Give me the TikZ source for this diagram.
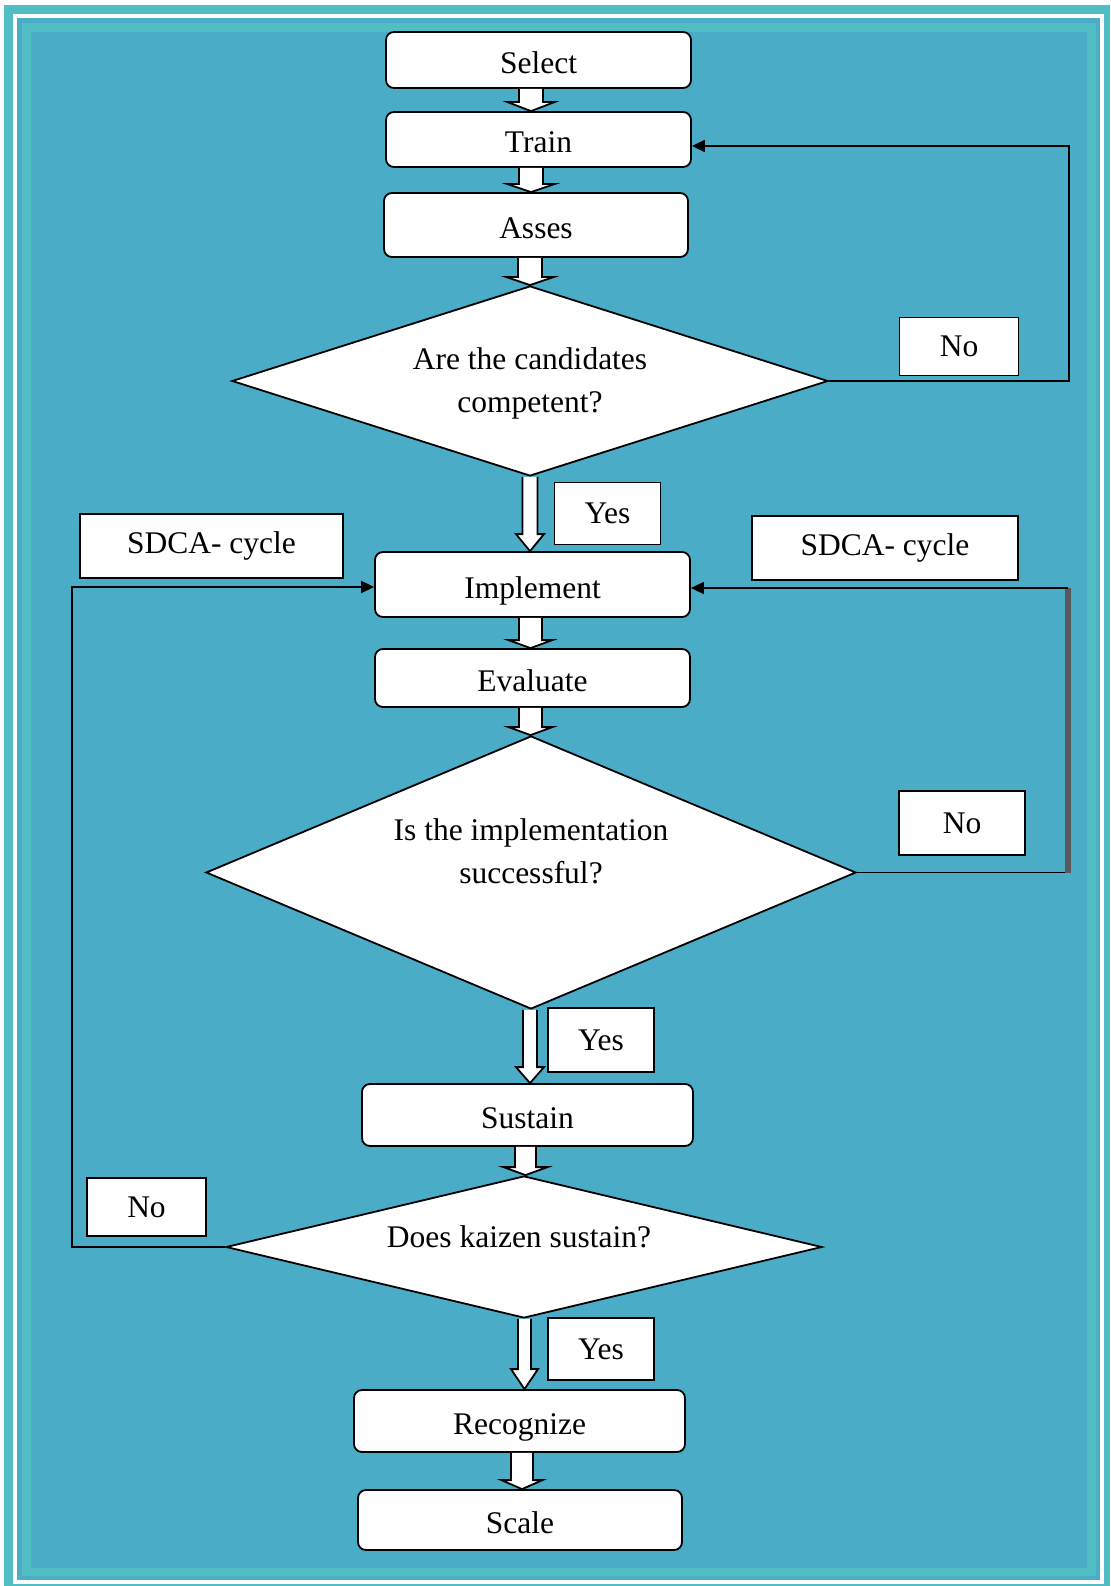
\documentclass[tikz,border=0pt]{standalone}
\usepackage{fontspec}
\setmainfont{Liberation Serif}
\usetikzlibrary{shapes.geometric,arrows.meta,calc}

\definecolor{frameteal}{RGB}{81,190,196}
\definecolor{panelblue}{RGB}{74,172,198}
\definecolor{loopgray}{RGB}{89,89,89}

\tikzset{
  txt/.style={font=\fontsize{31.5}{43}\selectfont, align=center, inner sep=0pt},
  stepbox/.style={draw=black, line width=1.8pt, fill=white, rounded corners=8pt,
    inner sep=0pt, text height=27pt, text depth=0pt, font=\fontsize{31.5}{43}\selectfont},
  tagbox/.style={draw=black, line width=1.8pt, fill=white, inner sep=0pt,
    font=\fontsize{31.5}{43}\selectfont},
  decision/.style={draw=black, line width=1.8pt, fill=white, diamond, inner sep=0pt},
  flowline/.style={draw=black, line width=1.8pt, line join=miter},
  loopline/.style={draw=black, line width=1.8pt},
  looptip/.style={-{Triangle[length=13pt,width=12pt]}},
}

% hollow block arrow: x position, start anchor, end anchor, half shaft, half head, head length
\newcommand\flowarrow[6]{%
  \fill[white] let \p1=(#2), \p2=(#3) in
    (#1pt-#4pt,\y1) -- (#1pt-#4pt,\y2+#6pt) -- (#1pt-#5pt,\y2+#6pt) -- (#1pt,\y2)
    -- (#1pt+#5pt,\y2+#6pt) -- (#1pt+#4pt,\y2+#6pt) -- (#1pt+#4pt,\y1) -- cycle;
  \draw[flowline] let \p1=(#2), \p2=(#3) in
    (#1pt-#4pt,\y1) -- (#1pt-#4pt,\y2+#6pt) -- (#1pt-#5pt,\y2+#6pt) -- (#1pt,\y2)
    -- (#1pt+#5pt,\y2+#6pt) -- (#1pt+#4pt,\y2+#6pt) -- (#1pt+#4pt,\y1);
}

\begin{document}
\begin{tikzpicture}[x=1pt,y=-1pt]
\useasboundingbox (0,0) rectangle (1110,1586);

% page frame
\fill[white] (0,0) rectangle (1110,1586);
\fill[frameteal] (4,5) rectangle (1110,1586);
\fill[white] (13,14) rectangle (1104,1584);
\fill[panelblue] (17,18) rectangle (1100,1580);
\fill[frameteal] (22,23) rectangle (1096,1576);
\fill[panelblue] (31,32) rectangle (1087,1568);

% process steps
\node[stepbox, minimum width=305pt, minimum height=56pt] (select) at (538.5,60) {Select};
\node[stepbox, minimum width=305pt, minimum height=55pt] (train) at (538.5,139.5) {Train};
\node[stepbox, minimum width=304pt, minimum height=64pt] (asses) at (536,225) {Asses};
\node[stepbox, minimum width=315pt, minimum height=65pt] (implement) at (532.5,584.5) {Implement};
\node[stepbox, minimum width=315pt, minimum height=58pt] (evaluate) at (532.5,678) {Evaluate};
\node[stepbox, minimum width=331pt, minimum height=62pt] (sustain) at (527.5,1115) {Sustain};
\node[stepbox, minimum width=331pt, minimum height=62pt] (recognize) at (519.5,1421) {Recognize};
\node[stepbox, minimum width=324pt, minimum height=60pt] (scale) at (520,1520) {Scale};

% decisions
\node[decision, minimum width=596pt, minimum height=190pt] (d1) at (530,381) {};
\node[txt] (d1text) at (530,383) {Are the candidates\\competent?};
\node[decision, minimum width=650pt, minimum height=273pt] (d2) at (531,872.5) {};
\node[txt] (d2text) at (531,851) {Is the implementation\\successful?};
\node[decision, minimum width=596pt, minimum height=142pt] (d3) at (524,1247) {};
\node[txt] (d3text) at (519,1237) {Does kaizen sustain?};

% answer and cycle tags
\node[tagbox, minimum width=119pt, minimum height=58pt] (no1) at (959,346.5) {No};
\node[tagbox, minimum width=106pt, minimum height=62pt] (yes1) at (607.5,513.5) {Yes};
\node[tagbox, minimum width=263pt, minimum height=64pt] (sdcaL) at (211.5,546) {SDCA- cycle};
\node[tagbox, minimum width=266pt, minimum height=64pt] (sdcaR) at (885,548) {SDCA- cycle};
\node[tagbox, minimum width=126pt, minimum height=64pt] (no2) at (962,823) {No};
\node[tagbox, minimum width=106pt, minimum height=64pt] (yes2) at (601,1040) {Yes};
\node[tagbox, minimum width=119pt, minimum height=58pt] (no3) at (146.5,1207) {No};
\node[tagbox, minimum width=106pt, minimum height=62pt] (yes3) at (601,1349) {Yes};

% main flow
\flowarrow{531}{select.south}{train.north}{12}{23.5}{9}
\flowarrow{531}{train.south}{asses.north}{12}{23.5}{8}
\flowarrow{530}{asses.south}{d1.north}{12}{23.5}{8}
\flowarrow{530}{d1.south}{implement.north}{7.5}{14}{17}
\flowarrow{530.5}{implement.south}{evaluate.north}{11.5}{22}{8}
\flowarrow{530.5}{evaluate.south}{d2.north}{11.5}{22}{8}
\flowarrow{530}{d2.south}{sustain.north}{7}{14}{16}
\flowarrow{525.5}{sustain.south}{d3.north}{10.5}{22}{8}
\flowarrow{524.5}{d3.south}{recognize.north}{6.5}{13.5}{20}
\flowarrow{522}{recognize.south}{scale.north}{11}{20.5}{9}

% feedback loops
\coordinate (c1) at (1069,146);
\draw[loopline, looptip] (d1.east) -- (d1.east -| c1) -- (c1) -- (c1 -| train.east);

\coordinate (c2) at (1068,588);
\draw[loopline] (d2.east) -- (d2.east -| c2);
\draw[loopgray, line width=6.5pt] (d2.east -| c2) -- (c2);
\draw[loopline, looptip] (c2) -- (c2 -| implement.east);

\coordinate (c3) at (72,587);
\draw[loopline, looptip] (d3.west) -- (d3.west -| c3) -- (c3) -- (c3 -| implement.west);
\end{tikzpicture}
\end{document}
